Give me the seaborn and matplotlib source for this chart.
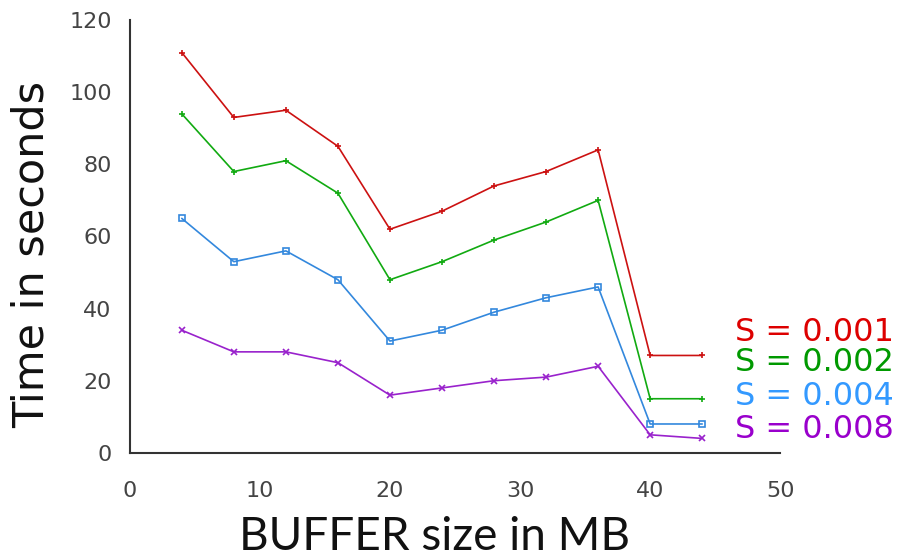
import matplotlib
matplotlib.use("Agg")
import matplotlib.pyplot as plt
import seaborn as sns
import pandas as pd

buffer_mb = [4, 8, 12, 16, 20, 24, 28, 32, 36, 40, 44]
s_0001 = [111, 93, 95, 85, 62, 67, 74, 78, 84, 27, 27]
s_0002 = [94, 78, 81, 72, 48, 53, 59, 64, 70, 15, 15]
s_0004 = [65, 53, 56, 48, 31, 34, 39, 43, 46, 8, 8]
s_0008 = [34, 28, 28, 25, 16, 18, 20, 21, 24, 5, 4]
series_names = ["S = 0.001", "S = 0.002", "S = 0.004", "S = 0.008"]
x_ticks = [0, 10, 20, 30, 40, 50]
y_ticks = [0, 20, 40, 60, 80, 100, 120]

line_colors = ["#cc1111", "#11aa11", "#3388dd", "#9922cc"]
text_colors = ["#dd0000", "#009900", "#3399ff", "#9900cc"]
markers = ["+", "+", "s", "x"]

sns.set_style("white")
fig = plt.figure(figsize=(9.01, 5.57), dpi=100)
ax = fig.add_axes([0.144, 0.187, 0.722, 0.777])

for name, vals, col, mk in zip(series_names, [s_0001, s_0002, s_0004, s_0008],
                               line_colors, markers):
    d = pd.DataFrame({"buffer": buffer_mb, "time": vals})
    kw = dict(markerfacecolor="none") if mk == "s" else {}
    sns.lineplot(data=d, x="buffer", y="time", color=col, marker=mk,
                 markersize=5, linewidth=1.2, markeredgewidth=1.2,
                 markeredgecolor=col, ax=ax, **kw)

ax.set_xlim(0, 50)
ax.set_ylim(0, 120)
ax.set_xticks(x_ticks)
ax.set_yticks(y_ticks)
for sp in ["top", "right"]:
    ax.spines[sp].set_visible(False)
for sp in ["left", "bottom"]:
    ax.spines[sp].set_color("#333333")
    ax.spines[sp].set_linewidth(1.5)
ax.tick_params(axis="both", direction="in", length=9, width=1.2, color="#333333",
               labelsize=16, labelcolor="#444444")
ax.tick_params(axis="x", pad=20)
ax.tick_params(axis="y", pad=13)

xl = ax.set_xlabel("BUFFER size in MB", fontsize=33, family=["Lato", "DejaVu Sans"],
                   color="#111111")
xl.set_va("baseline")
ax.xaxis.set_label_coords((435 - 130) / 650, -(550 - 453) / 433)
yl = ax.set_ylabel("Time in seconds", fontsize=31, family=["DejaVu Sans"], color="#111111")
yl.set_va("center")
ax.yaxis.set_label_coords((32 - 130) / 650, (453 - 255) / 433)

label_y = [33.3, 25.0, 15.6, 6.4]
for name, col, yy in zip(series_names, text_colors, label_y):
    ax.text(46.5, yy, name, color=col, fontsize=23, va="center", ha="left",
            family=["DejaVu Sans"], clip_on=False)

fig.savefig("out.png", dpi=100)
